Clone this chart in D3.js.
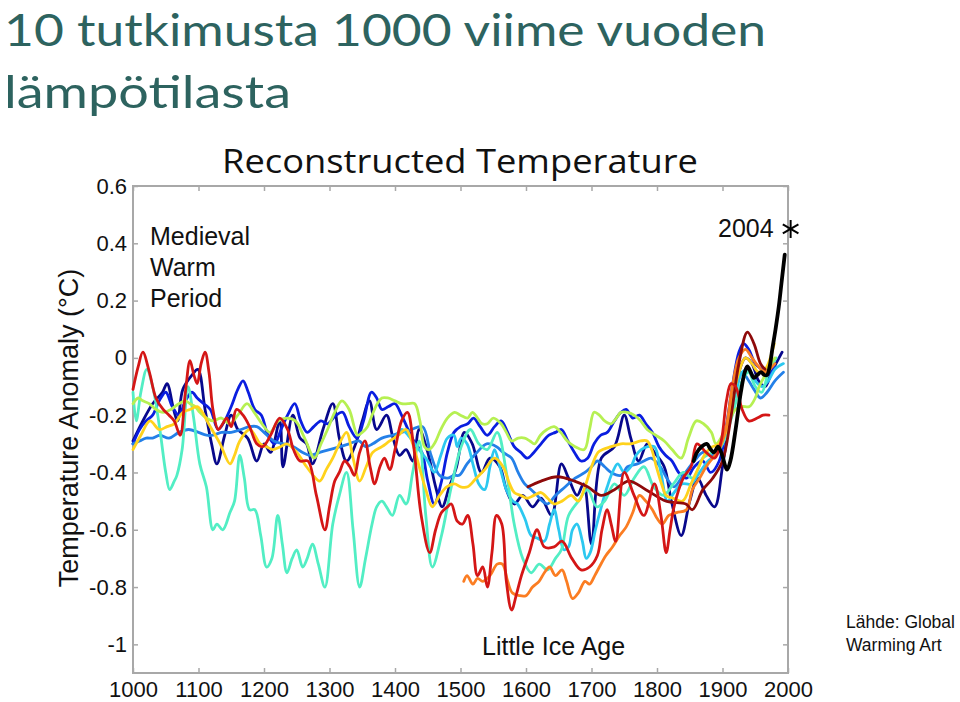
<!DOCTYPE html>
<html><head><meta charset="utf-8">
<script src="https://cdn.jsdelivr.net/npm/d3@7"></script>
<style>body{margin:0;background:#fff}svg{display:block}</style>
</head><body>
<svg id="c" width="960" height="702"></svg>
<script>
// ---------- data ----------
const xTicks = [1000,1100,1200,1300,1400,1500,1600,1700,1800,1900,2000];
const yTicks = [0.6,0.4,0.2,0,-0.2,-0.4,-0.6,-0.8,-1];

const navy = [[1000,-0.29],[1015,-0.22],[1030,-0.16],[1045,-0.12],[1052,-0.09],[1062,-0.18],[1068,-0.22],[1076,-0.11],[1090,-0.06],[1099,-0.04],[1110,-0.18],[1120,-0.30],[1128,-0.37],[1140,-0.27],[1150,-0.20],[1160,-0.25],[1175,-0.28],[1189,-0.36],[1200,-0.30],[1210,-0.33],[1224,-0.22],[1229,-0.38],[1244,-0.20],[1255,-0.28],[1265,-0.30],[1274,-0.37],[1290,-0.25],[1305,-0.16],[1315,-0.28],[1326,-0.36],[1340,-0.30],[1350,-0.22],[1361,-0.15],[1372,-0.25],[1387,-0.20],[1397,-0.28],[1407,-0.34],[1417,-0.32],[1427,-0.36],[1437,-0.25],[1450,-0.33],[1462,-0.45],[1472,-0.52],[1483,-0.45],[1494,-0.38],[1506,-0.26],[1518,-0.30],[1532,-0.40],[1545,-0.35],[1560,-0.38],[1570,-0.46],[1582,-0.51],[1595,-0.48],[1610,-0.52],[1623,-0.49],[1639,-0.55],[1654,-0.37],[1665,-0.42],[1678,-0.48],[1688,-0.44],[1700,-0.65],[1715,-0.35],[1735,-0.31],[1750,-0.20],[1760,-0.28],[1772,-0.36],[1785,-0.30],[1796,-0.33],[1811,-0.38],[1822,-0.50],[1837,-0.62],[1850,-0.50],[1862,-0.42],[1875,-0.48],[1888,-0.52],[1900,-0.38],[1912,-0.20],[1925,-0.05],[1935,0.0],[1945,-0.02],[1955,-0.08],[1965,-0.10],[1975,-0.05],[1991,0.02]];

const blue = [[1000,-0.30],[1010,-0.25],[1020,-0.22],[1030,-0.20],[1040,-0.15],[1050,-0.12],[1060,-0.17],[1070,-0.20],[1080,-0.15],[1090,-0.12],[1098,-0.14],[1108,-0.16],[1118,-0.18],[1130,-0.25],[1140,-0.22],[1150,-0.17],[1160,-0.11],[1168,-0.08],[1176,-0.12],[1186,-0.18],[1196,-0.20],[1206,-0.27],[1216,-0.30],[1226,-0.25],[1236,-0.20],[1247,-0.16],[1256,-0.22],[1266,-0.26],[1276,-0.24],[1287,-0.22],[1297,-0.23],[1310,-0.20],[1320,-0.19],[1330,-0.24],[1342,-0.28],[1352,-0.22],[1364,-0.12],[1372,-0.14],[1380,-0.18],[1390,-0.17],[1400,-0.16],[1410,-0.20],[1420,-0.25],[1431,-0.30],[1441,-0.33],[1450,-0.43],[1460,-0.51],[1470,-0.44],[1480,-0.33],[1490,-0.26],[1500,-0.24],[1511,-0.23],[1520,-0.21],[1530,-0.24],[1541,-0.27],[1552,-0.24],[1562,-0.22],[1572,-0.26],[1582,-0.31],[1592,-0.33],[1602,-0.35],[1612,-0.33],[1623,-0.30],[1635,-0.27],[1645,-0.26],[1654,-0.25],[1664,-0.29],[1674,-0.33],[1684,-0.36],[1694,-0.35],[1704,-0.30],[1714,-0.27],[1724,-0.26],[1735,-0.22],[1745,-0.19],[1753,-0.18],[1763,-0.21],[1773,-0.20],[1783,-0.23],[1793,-0.26],[1803,-0.31],[1813,-0.34],[1823,-0.36],[1833,-0.40],[1845,-0.42],[1857,-0.38],[1870,-0.36],[1882,-0.40],[1895,-0.36],[1905,-0.25],[1915,-0.10],[1925,0.02],[1932,0.05],[1940,0.03],[1950,-0.02],[1960,-0.04],[1970,-0.06],[1980,-0.03]];

const azure = [[1000,-0.30],[1010,-0.29],[1020,-0.28],[1030,-0.28],[1041,-0.27],[1055,-0.28],[1070,-0.26],[1085,-0.25],[1100,-0.26],[1112,-0.27],[1122,-0.27],[1135,-0.26],[1150,-0.26],[1165,-0.25],[1178,-0.24],[1189,-0.24],[1200,-0.26],[1215,-0.29],[1230,-0.30],[1245,-0.31],[1259,-0.33],[1270,-0.34],[1285,-0.33],[1300,-0.32],[1316,-0.31],[1330,-0.30],[1345,-0.29],[1355,-0.31],[1366,-0.30],[1380,-0.28],[1396,-0.27],[1410,-0.26],[1425,-0.25],[1442,-0.24],[1455,-0.34],[1468,-0.41],[1480,-0.42],[1490,-0.41],[1498,-0.41],[1510,-0.37],[1525,-0.33],[1540,-0.30],[1555,-0.31],[1565,-0.33],[1578,-0.35],[1588,-0.40],[1598,-0.44],[1608,-0.46],[1617,-0.48],[1625,-0.50],[1633,-0.51],[1645,-0.48],[1660,-0.45],[1675,-0.42],[1690,-0.40],[1700,-0.38],[1709,-0.36],[1720,-0.38],[1730,-0.40],[1745,-0.41],[1755,-0.38],[1770,-0.37],[1780,-0.36],[1791,-0.35],[1805,-0.38],[1815,-0.42],[1826,-0.45],[1840,-0.41],[1857,-0.36],[1870,-0.33],[1885,-0.34],[1900,-0.30],[1910,-0.20],[1920,-0.12],[1930,-0.05],[1940,-0.08],[1948,-0.11],[1958,-0.14],[1968,-0.12],[1980,-0.08],[1993,-0.05]];

const cyan = [[1400,-0.28],[1410,-0.25],[1420,-0.27],[1430,-0.30],[1440,-0.33],[1450,-0.36],[1460,-0.40],[1470,-0.34],[1480,-0.28],[1490,-0.27],[1495,-0.31],[1501,-0.28],[1510,-0.30],[1520,-0.38],[1528,-0.44],[1537,-0.46],[1545,-0.38],[1552,-0.32],[1560,-0.38],[1570,-0.46],[1580,-0.50],[1587,-0.51],[1598,-0.56],[1608,-0.62],[1618,-0.63],[1628,-0.64],[1636,-0.58],[1643,-0.53],[1650,-0.60],[1658,-0.67],[1665,-0.66],[1671,-0.60],[1678,-0.58],[1686,-0.64],[1692,-0.70],[1698,-0.68],[1706,-0.60],[1715,-0.52],[1724,-0.45],[1732,-0.40],[1740,-0.37],[1750,-0.40],[1760,-0.38],[1768,-0.34],[1776,-0.32],[1786,-0.31],[1796,-0.31],[1806,-0.40],[1816,-0.50],[1826,-0.47],[1838,-0.44],[1852,-0.44],[1865,-0.40],[1878,-0.36],[1890,-0.34],[1900,-0.30],[1910,-0.22],[1920,-0.12],[1930,-0.05],[1940,-0.04],[1950,-0.08],[1960,-0.10],[1970,-0.08],[1980,-0.04],[1993,-0.02]];

const aqua = [[1000,-0.12],[1005,-0.22],[1012,-0.12],[1021,-0.04],[1030,-0.10],[1041,-0.25],[1050,-0.40],[1056,-0.46],[1063,-0.43],[1067,-0.41],[1075,-0.32],[1084,-0.10],[1092,-0.20],[1102,-0.37],[1112,-0.45],[1122,-0.60],[1128,-0.58],[1137,-0.60],[1148,-0.54],[1155,-0.50],[1163,-0.34],[1170,-0.42],[1178,-0.53],[1186,-0.53],[1195,-0.62],[1204,-0.73],[1212,-0.70],[1221,-0.55],[1228,-0.65],[1235,-0.75],[1243,-0.70],[1250,-0.67],[1259,-0.73],[1266,-0.70],[1274,-0.65],[1283,-0.72],[1293,-0.80],[1305,-0.58],[1315,-0.48],[1326,-0.40],[1336,-0.60],[1346,-0.80],[1355,-0.70],[1365,-0.58],[1372,-0.52],[1380,-0.50],[1387,-0.52],[1396,-0.55],[1407,-0.48],[1417,-0.51],[1427,-0.40],[1437,-0.29],[1447,-0.55],[1457,-0.73],[1471,-0.62],[1486,-0.45],[1501,-0.31],[1515,-0.25],[1528,-0.30],[1541,-0.32],[1556,-0.26],[1570,-0.40],[1582,-0.58],[1595,-0.70],[1608,-0.75],[1620,-0.72],[1633,-0.74],[1645,-0.70],[1654,-0.67],[1665,-0.55],[1680,-0.50],[1694,-0.46],[1708,-0.52],[1720,-0.50],[1735,-0.44],[1750,-0.48],[1765,-0.42],[1780,-0.38],[1795,-0.45],[1810,-0.48],[1825,-0.44],[1840,-0.40],[1855,-0.42],[1870,-0.35],[1885,-0.33],[1900,-0.30],[1915,-0.20],[1930,-0.08],[1940,-0.05],[1950,-0.10],[1960,-0.12],[1970,-0.05],[1982,0.0]];

const lime = [[1000,-0.16],[1008,-0.14],[1015,-0.15],[1025,-0.16],[1035,-0.18],[1046,-0.19],[1058,-0.18],[1070,-0.16],[1080,-0.15],[1087,-0.16],[1095,-0.17],[1102,-0.19],[1112,-0.21],[1122,-0.22],[1135,-0.21],[1148,-0.23],[1160,-0.20],[1174,-0.16],[1185,-0.19],[1197,-0.23],[1209,-0.26],[1222,-0.22],[1235,-0.21],[1248,-0.22],[1262,-0.28],[1277,-0.35],[1287,-0.30],[1297,-0.25],[1308,-0.19],[1319,-0.15],[1330,-0.18],[1343,-0.27],[1350,-0.26],[1358,-0.24],[1365,-0.20],[1373,-0.16],[1380,-0.14],[1389,-0.14],[1400,-0.15],[1410,-0.16],[1420,-0.16],[1430,-0.16],[1438,-0.22],[1445,-0.31],[1452,-0.32],[1460,-0.30],[1470,-0.25],[1480,-0.21],[1491,-0.19],[1500,-0.20],[1511,-0.21],[1518,-0.19],[1526,-0.21],[1533,-0.23],[1541,-0.23],[1550,-0.21],[1562,-0.23],[1570,-0.26],[1578,-0.29],[1588,-0.28],[1598,-0.28],[1606,-0.29],[1613,-0.30],[1622,-0.27],[1632,-0.25],[1643,-0.24],[1653,-0.26],[1663,-0.29],[1675,-0.31],[1689,-0.32],[1697,-0.25],[1704,-0.19],[1712,-0.20],[1720,-0.22],[1730,-0.23],[1738,-0.21],[1745,-0.19],[1755,-0.19],[1765,-0.20],[1775,-0.22],[1785,-0.25],[1798,-0.27],[1811,-0.29],[1823,-0.32],[1837,-0.35],[1848,-0.28],[1860,-0.22],[1871,-0.23],[1883,-0.26],[1890,-0.30],[1900,-0.27],[1910,-0.22],[1920,-0.18],[1930,-0.17],[1941,-0.17],[1950,-0.14],[1956,-0.10],[1965,-0.06],[1971,-0.03],[1980,0.0]];

const yellow = [[1000,-0.32],[1012,-0.27],[1026,-0.22],[1040,-0.25],[1052,-0.24],[1063,-0.23],[1076,-0.19],[1087,-0.18],[1098,-0.17],[1106,-0.19],[1113,-0.22],[1123,-0.26],[1133,-0.30],[1148,-0.37],[1155,-0.34],[1163,-0.29],[1178,-0.25],[1186,-0.27],[1194,-0.30],[1204,-0.31],[1213,-0.32],[1225,-0.31],[1235,-0.30],[1250,-0.33],[1265,-0.38],[1275,-0.41],[1285,-0.43],[1295,-0.39],[1305,-0.35],[1315,-0.30],[1326,-0.26],[1336,-0.35],[1346,-0.43],[1356,-0.38],[1366,-0.33],[1380,-0.31],[1392,-0.29],[1405,-0.27],[1417,-0.25],[1427,-0.30],[1437,-0.38],[1447,-0.46],[1457,-0.52],[1468,-0.48],[1479,-0.45],[1491,-0.44],[1500,-0.45],[1511,-0.45],[1524,-0.42],[1537,-0.39],[1552,-0.35],[1565,-0.38],[1575,-0.44],[1582,-0.47],[1592,-0.48],[1602,-0.49],[1612,-0.48],[1623,-0.47],[1633,-0.49],[1643,-0.51],[1655,-0.50],[1669,-0.48],[1680,-0.50],[1690,-0.45],[1700,-0.38],[1710,-0.33],[1717,-0.32],[1730,-0.31],[1745,-0.30],[1760,-0.30],[1775,-0.29],[1785,-0.29],[1792,-0.32],[1799,-0.38],[1807,-0.44],[1814,-0.48],[1825,-0.49],[1839,-0.50],[1852,-0.44],[1864,-0.38],[1875,-0.33],[1885,-0.31],[1895,-0.30],[1905,-0.26],[1915,-0.15],[1925,-0.05],[1935,0.0],[1945,-0.02],[1955,-0.05],[1965,-0.04],[1979,0.05]];

const orange = [[1505,-0.78],[1510,-0.76],[1519,-0.79],[1526,-0.77],[1534,-0.78],[1545,-0.76],[1556,-0.72],[1564,-0.72],[1572,-0.78],[1579,-0.82],[1590,-0.83],[1600,-0.83],[1610,-0.80],[1620,-0.78],[1628,-0.75],[1636,-0.73],[1645,-0.76],[1655,-0.74],[1662,-0.78],[1671,-0.84],[1680,-0.82],[1690,-0.78],[1697,-0.79],[1705,-0.76],[1712,-0.73],[1722,-0.69],[1732,-0.66],[1743,-0.62],[1753,-0.59],[1763,-0.54],[1773,-0.48],[1783,-0.50],[1793,-0.53],[1800,-0.56],[1808,-0.58],[1818,-0.55],[1830,-0.54],[1845,-0.53],[1854,-0.46],[1865,-0.42],[1875,-0.38],[1885,-0.35],[1895,-0.32],[1905,-0.25],[1915,-0.10],[1925,0.0],[1935,0.03],[1945,0.0],[1955,-0.03],[1965,-0.05],[1980,-0.02]];

const darkred = [[1603,-0.45],[1623,-0.43],[1648,-0.415],[1674,-0.43],[1694,-0.45],[1715,-0.48],[1735,-0.46],[1757,-0.43],[1783,-0.46],[1814,-0.50],[1844,-0.51],[1854,-0.53],[1870,-0.46],[1885,-0.42],[1900,-0.36],[1912,-0.22],[1925,-0.02],[1938,0.09],[1948,0.05],[1958,-0.02],[1965,-0.04]];

const red = [[1000,-0.11],[1008,-0.03],[1015,0.02],[1025,-0.05],[1035,-0.14],[1046,-0.18],[1055,-0.20],[1063,-0.22],[1072,-0.27],[1080,-0.12],[1087,-0.01],[1093,-0.06],[1098,-0.09],[1104,-0.02],[1110,0.02],[1116,-0.05],[1122,-0.18],[1130,-0.25],[1137,-0.23],[1143,-0.21],[1150,-0.24],[1158,-0.18],[1168,-0.20],[1178,-0.24],[1189,-0.30],[1198,-0.31],[1210,-0.27],[1224,-0.21],[1236,-0.25],[1245,-0.32],[1255,-0.36],[1267,-0.36],[1280,-0.48],[1293,-0.60],[1300,-0.52],[1308,-0.43],[1315,-0.40],[1323,-0.36],[1331,-0.38],[1338,-0.41],[1346,-0.33],[1354,-0.29],[1362,-0.38],[1369,-0.44],[1377,-0.38],[1384,-0.35],[1392,-0.39],[1400,-0.32],[1410,-0.22],[1419,-0.19],[1428,-0.30],[1440,-0.55],[1453,-0.68],[1462,-0.60],[1471,-0.54],[1480,-0.52],[1486,-0.51],[1495,-0.57],[1503,-0.58],[1511,-0.55],[1519,-0.65],[1526,-0.76],[1534,-0.73],[1541,-0.80],[1548,-0.68],[1555,-0.55],[1563,-0.58],[1570,-0.78],[1578,-0.88],[1586,-0.82],[1593,-0.76],[1605,-0.68],[1617,-0.60],[1628,-0.66],[1643,-0.66],[1655,-0.64],[1670,-0.70],[1684,-0.74],[1697,-0.73],[1709,-0.69],[1716,-0.60],[1724,-0.53],[1730,-0.58],[1737,-0.64],[1750,-0.40],[1765,-0.48],[1780,-0.55],[1796,-0.44],[1806,-0.55],[1814,-0.68],[1820,-0.60],[1826,-0.52],[1840,-0.42],[1852,-0.38],[1861,-0.30],[1875,-0.33],[1888,-0.35],[1898,-0.29],[1906,-0.15],[1913,-0.09],[1920,-0.10],[1930,-0.18],[1940,-0.22],[1953,-0.21],[1962,-0.20],[1971,-0.20]];

const instrumental = [[1856,-0.36],[1861,-0.33],[1868,-0.31],[1876,-0.30],[1882,-0.32],[1887,-0.33],[1893,-0.31],[1898,-0.33],[1907,-0.39],[1912,-0.36],[1920,-0.25],[1928,-0.12],[1934,-0.05],[1938,-0.03],[1943,-0.05],[1948,-0.07],[1953,-0.06],[1959,-0.05],[1964,-0.06],[1968,-0.06],[1972,-0.03],[1976,0.03],[1981,0.10],[1986,0.18],[1990,0.26],[1995,0.36]];

const marker2004 = [2004, 0.45];

const seriesList = [
  {data: navy,    color: "#08088c"},
  {data: blue,    color: "#0a1ee0"},
  {data: azure,   color: "#2480e8"},
  {data: cyan,    color: "#2cc8f0"},
  {data: aqua,    color: "#52eec4"},
  {data: lime,    color: "#b6f052"},
  {data: yellow,  color: "#ffd21c"},
  {data: orange,  color: "#fb7d22"},
  {data: darkred, color: "#8e0a0a"},
  {data: red,     color: "#d41616"},
];

// ---------- drawing ----------
const svg = d3.select("#c");
const x = d3.scaleLinear().domain([1000, 2000]).range([133, 788]);
const y = d3.scaleLinear().domain([-1.1, 0.6]).range([673, 186]);
const axisFont = "'Liberation Sans', Arial, Helvetica, sans-serif";

// page title
const title = svg.append("g").attr("fill", "#2d635f")
  .style("font-family", "Lato, 'Open Sans', sans-serif").style("font-size", "44px");
title.append("text").attr("x", 4).attr("y", 46).attr("textLength", 762)
  .attr("lengthAdjust", "spacingAndGlyphs").text("10 tutkimusta 1000 viime vuoden");
title.append("text").attr("x", 4).attr("y", 108).attr("textLength", 287)
  .attr("lengthAdjust", "spacingAndGlyphs").text("lämpötilasta");

// chart title
svg.append("text").attr("x", 222).attr("y", 173).attr("textLength", 476)
  .attr("lengthAdjust", "spacingAndGlyphs")
  .style("font-family", "'Open Sans', 'Noto Sans', sans-serif").style("font-size", "33px")
  .attr("fill", "#111").text("Reconstructed Temperature");

// frame
const frameColor = "#a8a8a8";
svg.append("rect").attr("x", x(1000)).attr("y", y(0.6))
  .attr("width", x(2000) - x(1000)).attr("height", y(-1.1) - y(0.6))
  .attr("fill", "none").attr("stroke", frameColor).attr("stroke-width", 2);

function styleAxis(g) {
  g.select(".domain").remove();
  g.selectAll(".tick line").attr("stroke", frameColor).attr("stroke-width", 1.5);
  g.selectAll(".tick text").attr("fill", "#111").style("font-family", axisFont).style("font-size", "22px");
}

const yFmt = d => d === 0 ? "0" : (d === -1 ? "-1" : (d < 0 ? "-" : "") + Math.abs(d).toFixed(1));

svg.append("g").attr("transform", `translate(0,${y(-1.1)})`)
  .call(d3.axisBottom(x).tickValues(xTicks).tickSize(-5).tickPadding(8).tickFormat(d3.format("d")))
  .call(styleAxis);
svg.append("g").attr("transform", `translate(0,${y(0.6)})`)
  .call(d3.axisTop(x).tickValues(xTicks).tickSize(-5).tickFormat(""))
  .call(styleAxis);
svg.append("g").attr("transform", `translate(${x(1000)},0)`)
  .call(d3.axisLeft(y).tickValues(yTicks).tickSize(-5).tickPadding(6).tickFormat(yFmt))
  .call(styleAxis);
svg.append("g").attr("transform", `translate(${x(2000)},0)`)
  .call(d3.axisRight(y).tickValues(yTicks).tickSize(-5).tickFormat(""))
  .call(styleAxis);

// y axis label
svg.append("text").attr("transform", "translate(78,428) rotate(-90)")
  .attr("text-anchor", "middle").style("font-family", axisFont).style("font-size", "27px")
  .attr("fill", "#111").text("Temperature Anomaly (°C)");

// series
const line = d3.line().x(d => x(d[0])).y(d => y(d[1])).curve(d3.curveCatmullRom.alpha(0.5));
svg.append("g").selectAll("path").data(seriesList).join("path")
  .attr("d", s => line(s.data)).attr("fill", "none")
  .attr("stroke", s => s.color).attr("stroke-width", 2.8)
  .attr("stroke-linejoin", "round").attr("stroke-linecap", "round");

svg.append("path").attr("d", line(instrumental)).attr("fill", "none")
  .attr("stroke", "#000").attr("stroke-width", 3.8)
  .attr("stroke-linejoin", "round").attr("stroke-linecap", "round");

// 2004 marker (asterisk)
const mx = x(marker2004[0]), my = y(marker2004[1]);
const ast = svg.append("g").attr("stroke", "#000").attr("stroke-width", 2);
[90, 30, 150].forEach(a => {
  const r = 9, rad = a * Math.PI / 180;
  ast.append("line").attr("x1", mx - r * Math.cos(rad)).attr("y1", my - r * Math.sin(rad))
    .attr("x2", mx + r * Math.cos(rad)).attr("y2", my + r * Math.sin(rad));
});
svg.append("text").attr("x", mx - 17).attr("y", my + 8).attr("text-anchor", "end")
  .style("font-family", axisFont).style("font-size", "25px").attr("fill", "#111").text("2004");

// annotations
const ann = svg.append("g").style("font-family", axisFont).style("font-size", "25px").attr("fill", "#111");
ann.append("text").attr("x", 150).attr("y", 245).text("Medieval");
ann.append("text").attr("x", 150).attr("y", 276).text("Warm");
ann.append("text").attr("x", 150).attr("y", 307).text("Period");
ann.append("text").attr("x", 482).attr("y", 655).text("Little Ice Age");

// source
const src = svg.append("g").style("font-family", axisFont).style("font-size", "17.5px").attr("fill", "#111");
src.append("text").attr("x", 846).attr("y", 628).text("Lähde: Global");
src.append("text").attr("x", 846).attr("y", 651).text("Warming Art");
</script>
</body></html>
